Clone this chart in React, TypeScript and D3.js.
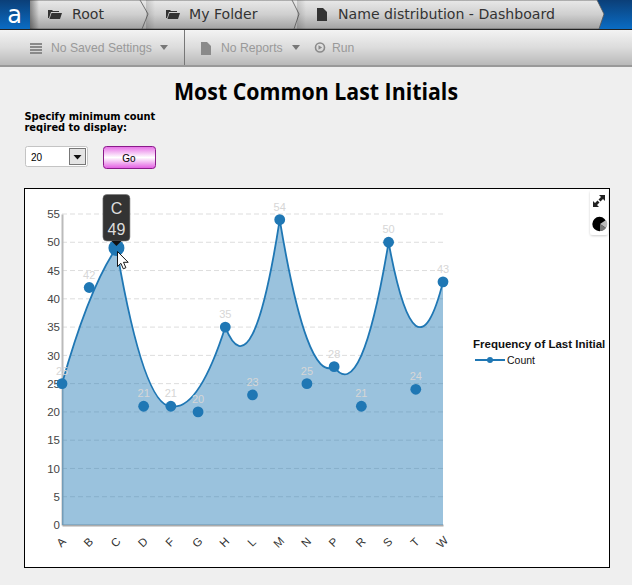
import React, { useEffect, useRef } from 'react';
import * as d3 from 'd3';

// Chart data
const initials = ['A', 'B', 'C', 'D', 'F', 'G', 'H', 'L', 'M', 'N', 'P', 'R', 'S', 'T', 'W'];
const counts = [25, 42, 49, 21, 21, 20, 35, 23, 54, 25, 28, 21, 50, 24, 43];
const yTicks = [0, 5, 10, 15, 20, 25, 30, 35, 40, 45, 50, 55];
const hoveredInitial = 'C';
const seriesName = 'Count';
const breadcrumbs = ['Root', 'My Folder', 'Name distribution - Dashboard'];

const BLUE = '#1f77b4';
const folderIcon = 'M0 2h4l1 1h6v1H3L1 10H0z M3.5 5H14l-2 6H1.5z';
const docIcon = 'M0 0h6l4 4v9H0z';

// the chart's line runs as quadratic segments: every other point is a control point
function curveQuadChain(context: any) {
  let line = NaN;
  let index = 0;
  let cx = 0;
  let cy = 0;
  return {
    areaStart() { line = 0; },
    areaEnd() { line = NaN; },
    lineStart() { index = 0; },
    lineEnd() {
      if (line || (line !== 0 && index === 1)) context.closePath();
      line = 1 - line;
    },
    point(x: number, y: number) {
      if (index === 0) {
        if (line) context.lineTo(x, y);
        else context.moveTo(x, y);
      } else if (index % 2 === 1) {
        cx = x;
        cy = y;
      } else {
        context.quadraticCurveTo(cx, cy, x, y);
      }
      index++;
    },
  };
}

const App: React.FC = () => {
  const svgRef = useRef<SVGSVGElement>(null);

  useEffect(() => {
    if (!svgRef.current) return;
    const svg = d3.select(svgRef.current);
    svg.selectAll('*').remove();

    const defs = svg.append('defs');
    const gradient = (id: string, stops: [string, string][]) => {
      const g = defs.append('linearGradient').attr('id', id).attr('x1', 0).attr('x2', 0).attr('y1', 0).attr('y2', 1);
      stops.forEach(([o, c]) => g.append('stop').attr('offset', o).attr('stop-color', c));
    };
    gradient('crumb', [['0', '#e9e9e9'], ['0.5', '#cfcfcf'], ['1', '#a2a2a2']]);
    gradient('tool', [['0', '#f3f3f3'], ['0.5', '#dcdcdc'], ['1', '#b9b9b9']]);
    gradient('blueBar', [['0', '#0b3f78'], ['1', '#0a6cc4']]);
    gradient('pink', [['0', '#e66ee6'], ['0.5', '#ffffff'], ['1', '#e25ae2']]);
    const shade = defs.append('linearGradient').attr('id', 'edgeShade').attr('x1', 0).attr('x2', 1).attr('y1', 0).attr('y2', 0);
    shade.append('stop').attr('offset', '0').attr('stop-color', '#000').attr('stop-opacity', 0.4);
    shade.append('stop').attr('offset', '1').attr('stop-color', '#000').attr('stop-opacity', 0);
    const soft = defs.append('filter').attr('id', 'softShadow').attr('x', '-30%').attr('y', '-30%').attr('width', '160%').attr('height', '160%');
    soft.append('feDropShadow').attr('dx', 0).attr('dy', 1).attr('stdDeviation', 1.2).attr('flood-color', '#000').attr('flood-opacity', 0.2);

    // page background
    svg.append('rect').attr('width', 632).attr('height', 585).attr('fill', '#efefef');

    // breadcrumb bar
    svg.append('rect').attr('width', 632).attr('height', 29).attr('fill', 'url(#blueBar)');
    const crumbEdges = [[32, 140, 148], [148, 292, 299], [299, 597, 604]];
    crumbEdges.slice().reverse().forEach(([x0, x1, tip]) => {
      svg.append('path')
        .attr('d', `M${x0 - 10} 0H${x1}L${tip} 14L${x1 + 2} 29H${x0 - 10}Z`)
        .attr('fill', 'url(#crumb)')
        .attr('stroke', '#555')
        .attr('stroke-width', 0.8);
    });
    // shadow just behind each chevron
    crumbEdges.forEach(([x0]) => {
      svg.append('rect').attr('x', x0 === 32 ? 30 : x0 - 2).attr('y', 0).attr('width', 9).attr('height', 29)
        .attr('fill', 'url(#edgeShade)').attr('opacity', x0 === 32 ? 1 : 0.35);
    });
    svg.append('rect').attr('width', 30).attr('height', 29).attr('fill', 'url(#blueBar)');
    svg.append('text').text('a').attr('x', 14.5).attr('y', 23)
      .attr('text-anchor', 'middle').attr('fill', '#fff')
      .style('font', '24px "DejaVu Sans"');
    svg.append('rect').attr('y', 29).attr('width', 632).attr('height', 1).attr('fill', '#222');
    [48, 166].forEach(x => svg.append('path').attr('d', folderIcon)
      .attr('transform', `translate(${x},8)`).attr('fill', '#333'));
    svg.append('path').attr('d', docIcon).attr('transform', 'translate(317,8)').attr('fill', '#333');
    [72, 189, 338].forEach((x, i) => svg.append('text').text(breadcrumbs[i])
      .attr('x', x).attr('y', 19).attr('fill', '#333')
      .style('font', '14.1px "DejaVu Sans"'));

    // toolbar
    svg.append('rect').attr('y', 30).attr('width', 632).attr('height', 35).attr('fill', 'url(#tool)');
    svg.append('rect').attr('y', 65).attr('width', 632).attr('height', 2).attr('fill', '#999');
    svg.append('rect').attr('x', 184).attr('y', 30).attr('width', 1).attr('height', 35).attr('fill', '#777');
    [43, 46, 49, 52].forEach(y => svg.append('rect').attr('x', 30).attr('y', y)
      .attr('width', 12).attr('height', 2).attr('fill', '#8a8a8a'));
    svg.append('path').attr('d', docIcon).attr('transform', 'translate(201,42)').attr('fill', '#8a8a8a');
    [['No Saved Settings', 51], ['No Reports', 221], ['Run', 332]].forEach(([t, x]) => {
      svg.append('text').text(t as string).attr('x', x as number).attr('y', 52)
        .attr('fill', '#999').style('font', '12.2px "Liberation Sans"');
    });
    ['M160 45h8l-4 5z', 'M292 45h8l-4 5z'].forEach(d => svg.append('path').attr('d', d).attr('fill', '#777'));
    svg.append('circle').attr('cx', 320).attr('cy', 47.5).attr('r', 4.5)
      .attr('fill', 'none').attr('stroke', '#8a8a8a').attr('stroke-width', 1.6);
    svg.append('path').attr('d', 'M318.5 45.2l3.6 2.3-3.6 2.3z').attr('fill', '#8a8a8a');

    // title and controls
    svg.append('text').text('Most Common Last Initials')
      .attr('x', 316).attr('y', 100).attr('text-anchor', 'middle').attr('fill', '#000')
      .attr('textLength', 284).attr('lengthAdjust', 'spacingAndGlyphs')
      .style('font', '700 24px "Open Sans"');
    ['Specify minimum count', 'reqired to display:'].forEach((t, i) => {
      svg.append('text').text(t).attr('x', 24.5).attr('y', 120 + i * 11).attr('fill', '#000')
        .style('font', '700 9.9px "DejaVu Sans"');
    });
    svg.append('rect').attr('x', 25.5).attr('y', 146.5).attr('width', 62).attr('height', 20)
      .attr('rx', 2).attr('fill', '#fff').attr('stroke', '#c4c4c4');
    svg.append('text').text('20').attr('x', 31).attr('y', 161).attr('fill', '#000')
      .style('font', '10px "Liberation Sans"');
    svg.append('rect').attr('x', 69.5).attr('y', 148.5).attr('width', 16).attr('height', 16)
      .attr('fill', '#e4e4e4').attr('stroke', '#777');
    svg.append('path').attr('d', 'M73.5 155h8l-4 4.5z').attr('fill', '#111');
    svg.append('rect').attr('x', 103.5).attr('y', 146.5).attr('width', 52).attr('height', 22)
      .attr('rx', 3).attr('fill', 'url(#pink)').attr('stroke', '#8a1a8a');
    svg.append('text').text('Go').attr('x', 129).attr('y', 162).attr('text-anchor', 'middle')
      .attr('fill', '#000').style('font', '10px "Liberation Sans"');

    // chart frame
    svg.append('rect').attr('x', 24.5).attr('y', 188.5).attr('width', 585).attr('height', 379)
      .attr('fill', '#fff').attr('stroke', '#000');

    const points = initials.map((name, i) => ({ name, value: counts[i] }));
    const x = d3.scalePoint<string>().domain(initials).range([62, 443]);
    const y = d3.scaleLinear().domain([0, 55]).range([525, 214]);

    // gridlines
    svg.append('g').selectAll('line').data(yTicks.filter(t => t > 0)).join('line')
      .attr('x1', 62).attr('x2', 443)
      .attr('y1', d => y(d)).attr('y2', d => y(d))
      .attr('stroke', '#ddd').attr('stroke-dasharray', '5,3');

    // axes go under the area so it tints them
    const yAxis = svg.append('g').attr('transform', 'translate(62,0)')
      .call(d3.axisLeft(y).tickValues(yTicks).tickSize(0).tickPadding(2));
    yAxis.select('.domain').attr('stroke', '#bbb').attr('stroke-width', 2);
    yAxis.selectAll('text').attr('fill', '#444').style('font', '11.5px "Liberation Sans"');

    const xAxis = svg.append('g').attr('transform', 'translate(0,525)')
      .call(d3.axisBottom(x).tickSize(0).tickPadding(0));
    xAxis.select('.domain').attr('stroke', '#aaa').attr('stroke-width', 2);
    xAxis.selectAll('text')
      .attr('y', 0).attr('dy', 0).attr('text-anchor', 'middle')
      .attr('transform', 'translate(1.5,20) rotate(-45)')
      .attr('fill', '#333').style('font', '11.5px "Liberation Sans"');

    // area and line
    const area = d3.area<{ name: string; value: number }>()
      .x(d => x(d.name)!).y0(y(0)).y1(d => y(d.value)).curve(curveQuadChain as any);
    const line = d3.line<{ name: string; value: number }>()
      .x(d => x(d.name)!).y(d => y(d.value)).curve(curveQuadChain as any);
    svg.append('path').datum(points).attr('d', area).attr('fill', BLUE).attr('fill-opacity', 0.45);
    svg.append('path').datum(points).attr('d', line).attr('fill', 'none')
      .attr('stroke', BLUE).attr('stroke-width', 1.8);

    // points and value labels
    svg.append('g').selectAll('text').data(points.filter(d => d.name !== hoveredInitial)).join('text')
      .text(d => d.value)
      .attr('x', d => x(d.name)!).attr('y', d => y(d.value) - 9)
      .attr('text-anchor', 'middle').attr('fill', '#d6d6d6')
      .style('font', '11px "Liberation Sans"');
    svg.append('g').selectAll('circle').data(points).join('circle')
      .attr('cx', d => x(d.name)!).attr('cy', d => y(d.value))
      .attr('r', d => (d.name === hoveredInitial ? 8 : 5.4))
      .attr('fill', BLUE);

    // tooltip on the hovered point
    const hovered = points.find(d => d.name === hoveredInitial)!;
    const hx = x(hovered.name)!;
    const tip = svg.append('g');
    tip.append('rect').attr('x', hx - 13.5).attr('y', 194.5).attr('width', 27).attr('height', 46.5)
      .attr('rx', 4).attr('fill', '#333').attr('stroke', '#777').attr('stroke-width', 0.6);
    tip.append('path').attr('d', `M${hx - 5} 241h10l-5 5z`).attr('fill', '#111');
    tip.append('text').text(hovered.name).attr('x', hx).attr('y', 214).attr('text-anchor', 'middle')
      .attr('fill', '#ddd').style('font', '16px "Liberation Sans"');
    tip.append('text').text(hovered.value).attr('x', hx).attr('y', 235).attr('text-anchor', 'middle')
      .attr('fill', '#ddd').style('font', '16px "Liberation Sans"');

    // mouse pointer
    svg.append('path').attr('d', 'M117.5 251.5v15l3.4-3.2 2.4 5.5 2.6-1.1-2.4-5.4h4.7z')
      .attr('fill', '#fff').attr('stroke', '#000').attr('stroke-width', 0.9);

    // legend
    svg.append('text').text('Frequency of Last Initial').attr('x', 473).attr('y', 348).attr('fill', '#111')
      .style('font', '700 11.5px "Liberation Sans"');
    svg.append('line').attr('x1', 475).attr('x2', 505).attr('y1', 360).attr('y2', 360)
      .attr('stroke', BLUE).attr('stroke-width', 2);
    svg.append('circle').attr('cx', 490).attr('cy', 360).attr('r', 3).attr('fill', BLUE);
    svg.append('text').text(seriesName).attr('x', 507).attr('y', 364).attr('fill', '#111')
      .style('font', '10.5px "Liberation Sans"');

    // corner buttons
    svg.append('rect').attr('x', 590).attr('y', 190).attr('width', 18).attr('height', 45)
      .attr('rx', 3).attr('fill', '#fff').attr('filter', 'url(#softShadow)');
    svg.append('path').attr('d', 'M605 195v6l-2-2-2.5 2.5-2-2 2.5-2.5-2-2z').attr('fill', '#222');
    svg.append('path').attr('d', 'M593 207v-6l2 2 2.5-2.5 2 2-2.5 2.5 2 2z').attr('fill', '#222');
    svg.append('circle').attr('cx', 599.5).attr('cy', 224).attr('r', 7.2).attr('fill', '#000');
    svg.append('path').attr('d', 'M600 224l6-4a7.2 7.2 0 0 1 0 8z').attr('fill', '#bbb');
    svg.append('path').attr('d', 'M600 224l6 4a7.2 7.2 0 0 1-6 3z').attr('fill', '#777');
  }, []);

  return (
    <svg
      ref={svgRef}
      width={632}
      height={585}
      style={{ position: 'absolute', left: 0, top: 0, display: 'block' }}
    />
  );
};

export default App;
